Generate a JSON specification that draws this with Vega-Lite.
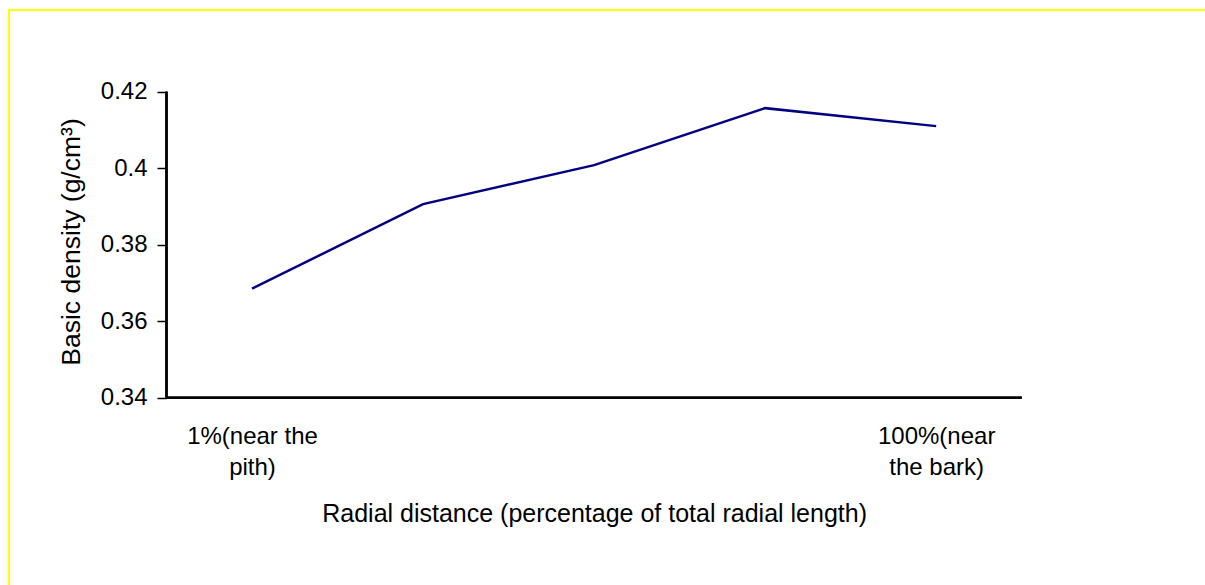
{
  "$schema": "https://vega.github.io/schema/vega-lite/v6.json",
  "autosize": {"type": "none"},
  "padding": {"left": 9, "top": 10, "right": 0, "bottom": 0},
  "width": 1200,
  "height": 580,
  "background": "white",
  "config": {
    "view": {"stroke": "#FFFF00", "strokeWidth": 2, "fill": "white"},
    "font": "Liberation Sans"
  },
  "data": {
    "values": [
      {"pos": 1, "density": 0.3685},
      {"pos": 2, "density": 0.3906},
      {"pos": 3, "density": 0.4008},
      {"pos": 4, "density": 0.4157},
      {"pos": 5, "density": 0.4110}
    ]
  },
  "layer": [
    {
      "mark": {"type": "line", "color": "#000080", "strokeWidth": 2.5},
      "encoding": {
        "x": {
          "field": "pos",
          "type": "quantitative",
          "scale": {"domain": [-0.42083, 6.5951], "nice": false, "zero": false},
          "axis": {
            "orient": "bottom",
            "offset": -192.3,
            "domain": false,
            "ticks": false,
            "tickSize": 0,
            "grid": false,
            "values": [1, 5],
            "labelExpr": "datum.value == 1 ? ['1%(near the', 'pith)'] : ['100%(near', 'the bark)']",
            "labelFont": "Liberation Sans",
            "labelFontSize": 24,
            "labelColor": "black",
            "labelPadding": 27,
            "labelLineHeight": 31,
            "labelBaseline": "top",
            "labelFlush": false,
            "labelOverlap": false,
            "title": "Radial distance (percentage of total radial length)",
            "titleFont": "Liberation Sans",
            "titleFontSize": 25,
            "titleFontWeight": "normal",
            "titleColor": "black",
            "titleX": 585.1,
            "titleY": 123.3,
            "titleAlign": "center",
            "titleBaseline": "alphabetic"
          }
        },
        "y": {
          "field": "density",
          "type": "quantitative",
          "scale": {"domain": [0.289725, 0.441359], "nice": false, "zero": false},
          "axis": {
            "orient": "left",
            "offset": -157.5,
            "domain": false,
            "grid": false,
            "values": [0.34, 0.36, 0.38, 0.4, 0.42],
            "format": "~g",
            "tickSize": 9.5,
            "tickColor": "black",
            "tickWidth": 1.5,
            "labelFont": "Liberation Sans",
            "labelFontSize": 24,
            "labelColor": "black",
            "labelPadding": 10,
            "title": "Basic density (g/cm³)",
            "titleFont": "Liberation Sans",
            "titleFontSize": 26.5,
            "titleFontWeight": "normal",
            "titleColor": "black",
            "titleAngle": -90,
            "titleX": -87.5,
            "titleY": 231.5,
            "titleAlign": "center",
            "titleBaseline": "alphabetic"
          }
        }
      }
    },
    {
      "mark": {"type": "rule", "color": "black", "strokeWidth": 1.8},
      "encoding": {
        "x": {"datum": 0.5, "type": "quantitative"},
        "y": {"datum": 0.34, "type": "quantitative"},
        "y2": {"datum": 0.42}
      }
    },
    {
      "mark": {"type": "rule", "color": "black", "strokeWidth": 1.8},
      "encoding": {
        "x": {"datum": 0.5, "type": "quantitative"},
        "x2": {"datum": 5.5},
        "y": {"datum": 0.34, "type": "quantitative"}
      }
    }
  ]
}
